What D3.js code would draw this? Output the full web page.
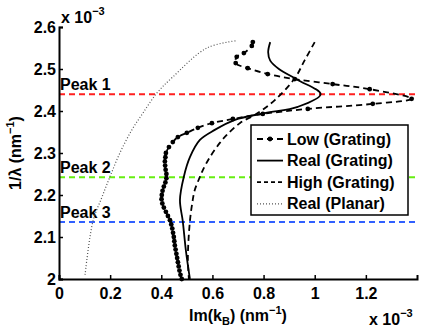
<!DOCTYPE html>
<html>
<head>
<meta charset="utf-8">
<script src="https://cdn.jsdelivr.net/npm/d3@7"></script>
<style>
  body { margin: 0; background: #fff; }
  svg text { font-family: "Liberation Sans", Arial, sans-serif; font-weight: bold; fill: #000; }
</style>
</head>
<body>
<div id="chart"></div>
<script>
// ---- DATA (x values in units of 1e-3 nm^-1, y = 1/lambda in units of 1e-3 nm^-1) ----
let lowY = [2.564, 2.555, 2.538, 2.529, 2.514, 2.502, 2.488, 2.476, 2.464, 2.452, 2.429, 2.417, 2.405, 2.393, 2.381, 2.371, 2.360, 2.348, 2.338, 2.326, 2.314, 2.300,
            2.290, 2.280, 2.270, 2.260, 2.250, 2.240, 2.230, 2.220, 2.210, 2.200, 2.190, 2.180, 2.170, 2.160, 2.150, 2.140, 2.130, 2.120, 2.110, 2.100,
            2.090, 2.080, 2.070, 2.060, 2.050, 2.040, 2.030, 2.020, 2.010, 2.000];
let lowX = [0.758, 0.754, 0.723, 0.695, 0.691, 0.738, 0.816, 0.922, 1.070, 1.215, 1.379, 1.227, 0.973, 0.797, 0.680, 0.598, 0.543, 0.500, 0.465, 0.445, 0.430, 0.418,
            0.416, 0.414, 0.415, 0.417, 0.420, 0.420, 0.416, 0.410, 0.405, 0.402, 0.401, 0.404, 0.410, 0.418, 0.426, 0.434, 0.439, 0.443, 0.446, 0.449,
            0.451, 0.453, 0.456, 0.459, 0.462, 0.465, 0.468, 0.471, 0.475, 0.480];

let realY = [2.564, 2.540, 2.520, 2.500, 2.474, 2.440, 2.410, 2.395, 2.379, 2.355, 2.331, 2.290, 2.243, 2.188, 2.138, 2.069, 2.000];
let realX = [0.826, 0.818, 0.826, 0.860, 0.934, 1.023, 0.934, 0.805, 0.688, 0.609, 0.551, 0.512, 0.488, 0.473, 0.484, 0.496, 0.512];

let highY = [2.564, 2.521, 2.478, 2.426, 2.395, 2.371, 2.343, 2.324, 2.290, 2.260, 2.243, 2.212, 2.188, 2.138, 2.052, 2.000];
let highX = [1.000, 0.961, 0.922, 0.844, 0.777, 0.707, 0.656, 0.629, 0.590, 0.563, 0.551, 0.531, 0.523, 0.512, 0.504, 0.508];

let planarY = [2.010, 2.138, 2.195, 2.243, 2.300, 2.355, 2.395, 2.443, 2.481, 2.550, 2.567];
let planarX = [0.102, 0.133, 0.168, 0.199, 0.238, 0.285, 0.328, 0.383, 0.445, 0.578, 0.691];

let peakNames = ["Peak 1", "Peak 2", "Peak 3"];
let peakY = [2.440, 2.242, 2.136];
let peakColors = ["#ff2020", "#66ee11", "#3060ff"];

let xTicks = [0, 0.2, 0.4, 0.6, 0.8, 1, 1.2];
let yTicks = [2, 2.1, 2.2, 2.3, 2.4, 2.5, 2.6];

let legendNames = ["Low (Grating)", "Real (Grating)", "High (Grating)", "Real (Planar)"];

// ---- CHART AREA ----
let margin = {top: 27, right: 12, bottom: 56, left: 59},
    width = 429 - margin.left - margin.right,
    height = 335 - margin.top - margin.bottom;

let svgRoot = d3.select("#chart").append("svg")
    .attr("width", 429)
    .attr("height", 335);

let svg = svgRoot.append("g")
    .attr("transform", "translate(" + margin.left + "," + margin.top + ")");

let x = d3.scaleLinear().domain([0, 1.4]).range([0, width]);
let y = d3.scaleLinear().domain([2, 2.6]).range([height, 0]);

// peak lines
peakY.forEach((p, i) => {
    svg.append("line")
        .attr("x1", x(0)).attr("x2", x(1.4))
        .attr("y1", y(p)).attr("y2", y(p))
        .attr("stroke", peakColors[i])
        .attr("stroke-width", 2)
        .attr("stroke-dasharray", "6,4");
    svg.append("text")
        .attr("x", 1).attr("y", y(p) - 4)
        .attr("font-size", 16)
        .text(peakNames[i]);
});

// curves
let line = d3.line()
    .x(d => x(d[0]))
    .y(d => y(d[1]))
    .curve(d3.curveCatmullRom);

let zip = (xs, ys) => xs.map((v, i) => [v, ys[i]]);

let lowData = zip(lowX, lowY),
    realData = zip(realX, realY),
    highData = zip(highX, highY),
    planarData = zip(planarX, planarY);

svg.append("path").datum(planarData)
    .attr("d", line).attr("fill", "none")
    .attr("stroke", "#555").attr("stroke-width", 1.2)
    .attr("stroke-dasharray", "1,2");

svg.append("path").datum(highData)
    .attr("d", line).attr("fill", "none")
    .attr("stroke", "#000").attr("stroke-width", 1.8)
    .attr("stroke-dasharray", "6,4");

svg.append("path").datum(realData)
    .attr("d", line).attr("fill", "none")
    .attr("stroke", "#000").attr("stroke-width", 1.8);

svg.append("path").datum(lowData)
    .attr("d", line).attr("fill", "none")
    .attr("stroke", "#000").attr("stroke-width", 1.8)
    .attr("stroke-dasharray", "6,4");

svg.selectAll(".lowdot").data(lowData).enter()
    .append("circle").attr("class", "lowdot")
    .attr("cx", d => x(d[0])).attr("cy", d => y(d[1]))
    .attr("r", 2.4).attr("fill", "#000");

// ---- AXES ----
let xAxis = d3.axisBottom(x).tickValues(xTicks).tickSize(-4).tickPadding(9)
    .tickFormat(d => d === 0 || d === 1 ? d3.format("d")(d) : d3.format(".1f")(d));
let yAxis = d3.axisLeft(y).tickValues(yTicks).tickSize(-4).tickPadding(3)
    .tickFormat(d => d === 2 ? "2" : d3.format(".1f")(d));

let xg = svg.append("g").attr("transform", "translate(0," + height + ")").call(xAxis);
let yg = svg.append("g").call(yAxis);

[xg, yg].forEach(g => {
    g.select(".domain").attr("stroke", "#000").attr("stroke-width", 2);
    g.selectAll(".tick line").attr("stroke", "#000").attr("stroke-width", 1.5);
    g.selectAll("text").attr("font-size", 16).attr("font-family", "Liberation Sans, Arial, sans-serif").attr("font-weight", "bold");
});
yg.selectAll(".tick text").attr("dy", "0.35em");

// ---- LEGEND ----
let lg = svg.append("g").attr("transform", "translate(" + (251 - margin.left) + "," + (125 - margin.top) + ")");
lg.append("rect").attr("width", 157).attr("height", 90)
    .attr("fill", "#fff").attr("stroke", "#000").attr("stroke-width", 1.5);

let legStyles = [
    {dash: "6,4", stroke: "#000", w: 1.8, dot: true},
    {dash: null, stroke: "#000", w: 1.8, dot: false},
    {dash: "4,3", stroke: "#000", w: 1.8, dot: false},
    {dash: "1,2", stroke: "#555", w: 1.2, dot: false}
];
legendNames.forEach((name, i) => {
    let cy = 14 + i * 21.6;
    let s = legStyles[i];
    let l = lg.append("line").attr("x1", 6).attr("x2", 32).attr("y1", cy).attr("y2", cy)
        .attr("stroke", s.stroke).attr("stroke-width", s.w);
    if (s.dash) l.attr("stroke-dasharray", s.dash);
    if (s.dot) lg.append("circle").attr("cx", 19).attr("cy", cy).attr("r", 2.4).attr("fill", "#000");
    lg.append("text").attr("x", 36).attr("y", cy).attr("dy", "0.35em")
        .attr("font-size", 16).text(name);
});

// ---- LABELS ----
let xl = svgRoot.append("text").attr("x", 238).attr("y", 321).attr("text-anchor", "middle").attr("font-size", 16);
xl.append("tspan").text("Im(k");
xl.append("tspan").attr("font-size", 11).attr("dy", 4).text("B");
xl.append("tspan").attr("dy", -4).text(") (nm");
xl.append("tspan").attr("font-size", 11).attr("dy", -7).text("\u22121");
xl.append("tspan").attr("dy", 7).text(")");

let yl = svgRoot.append("text").attr("transform", "translate(21,153) rotate(-90)")
    .attr("text-anchor", "middle").attr("font-size", 16);
yl.append("tspan").text("1/\u03bb (nm");
yl.append("tspan").attr("font-size", 11).attr("dy", -7).text("\u22121");
yl.append("tspan").attr("dy", 7).text(")");

function expLabel(px, py) {
    let t = svgRoot.append("text").attr("x", px).attr("y", py).attr("font-size", 16);
    t.append("tspan").text("x 10");
    t.append("tspan").attr("font-size", 11).attr("dy", -8).text("\u22123");
}
expLabel(61, 23);
expLabel(369, 325);
</script>
</body>
</html>
